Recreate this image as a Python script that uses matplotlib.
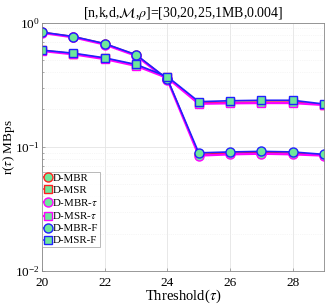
import matplotlib
matplotlib.use("Agg")
import matplotlib.pyplot as plt
from matplotlib.ticker import LogLocator, NullFormatter

plt.rcParams['font.family'] = ['Liberation Serif', 'DejaVu Serif']
plt.rcParams['mathtext.fontset'] = 'stix'

# threshold values
tau = [20, 21, 22, 23, 24, 25, 26, 27, 28, 29]

# repair rates (MBps)
mbr = [0.835, 0.77, 0.675, 0.548, 0.35, 0.087, 0.089, 0.090, 0.089, 0.086]
msr = [0.598, 0.562, 0.515, 0.455, 0.362, 0.225, 0.228, 0.229, 0.229, 0.219]
mbr_tau = [0.825, 0.76, 0.665, 0.54, 0.345, 0.085, 0.087, 0.088, 0.087, 0.085]
msr_tau = [0.590, 0.555, 0.508, 0.448, 0.358, 0.222, 0.224, 0.225, 0.225, 0.217]
mbr_f = [0.837, 0.772, 0.677, 0.551, 0.352, 0.0895, 0.091, 0.092, 0.091, 0.087]
msr_f = [0.600, 0.567, 0.520, 0.460, 0.367, 0.231, 0.235, 0.237, 0.237, 0.221]

face = '#6EE89A'

fig = plt.figure(figsize=(3.32, 3.05), dpi=100)
ax = fig.add_axes([0.127, 0.111, 0.849, 0.815])

ax.plot(tau, mbr, '-o', color='#FF2020', lw=1.2, ms=6.5, mfc=face, mec='#FF2020', mew=1.0, label='D-MBR')
ax.plot(tau, msr, '-s', color='#FF2020', lw=1.2, ms=5.5, mfc=face, mec='#FF2020', mew=1.0, label='D-MSR')
ax.plot(tau, mbr_tau, '-o', color='#FF00FF', lw=1.6, ms=6.5, mfc=face, mec='#FF00FF', mew=1.0, label=r'D-MBR-$\tau$')
ax.plot(tau, msr_tau, '-s', color='#FF00FF', lw=1.6, ms=5.5, mfc=face, mec='#FF00FF', mew=1.0, label=r'D-MSR-$\tau$')
ax.plot(tau, mbr_f, '-o', color='#2020FF', lw=1.2, ms=6.5, mfc=face, mec='#2020FF', mew=1.0, label='D-MBR-F')
ax.plot(tau, msr_f, '-s', color='#2020FF', lw=1.2, ms=5.5, mfc=face, mec='#2020FF', mew=1.0, label='D-MSR-F')

ax.set_yscale('log')
ax.set_xlim(20, 29)
ax.set_ylim(0.01, 1)
ax.set_xticks([20, 22, 24, 26, 28])
ax.yaxis.set_minor_locator(LogLocator(base=10, subs=range(2, 10)))
ax.yaxis.set_minor_formatter(NullFormatter())
ax.grid(True, which='major', color='#e4e4e4', lw=0.6)
ax.grid(True, which='minor', axis='y', color='#eeeeee', lw=0.5, ls=':')
ax.set_axisbelow(True)
for s in ax.spines.values():
    s.set_color('#888888')
    s.set_linewidth(0.6)
ax.tick_params(which='both', direction='in', length=2.5, width=0.5, color='#888888', labelsize=9.5, pad=1.5)
ax.tick_params(axis='x', pad=4)
ax.tick_params(which='minor', length=1.5)

ax.set_title(r'[n,k,d,$\mathcal{M}$,$\rho$]=[30,20,25,1MB,0.004]', fontsize=10, pad=4)
ax.set_xlabel(r'Threshold($\tau$)', fontsize=10.5, labelpad=-1)
ax.set_ylabel(r'r($\tau$) MBps', fontsize=9.5)
ax.yaxis.set_label_coords(-0.088, 0.5)

leg = ax.legend(loc='lower left', bbox_to_anchor=(0.0, 0.097), fontsize=7.8, frameon=True, fancybox=False,
                edgecolor='#999999', handlelength=0.7, handletextpad=0.1, borderpad=0.15,
                labelspacing=0.22, borderaxespad=0.0)
leg.get_frame().set_linewidth(0.6)

fig.savefig('out.png', dpi=100)
